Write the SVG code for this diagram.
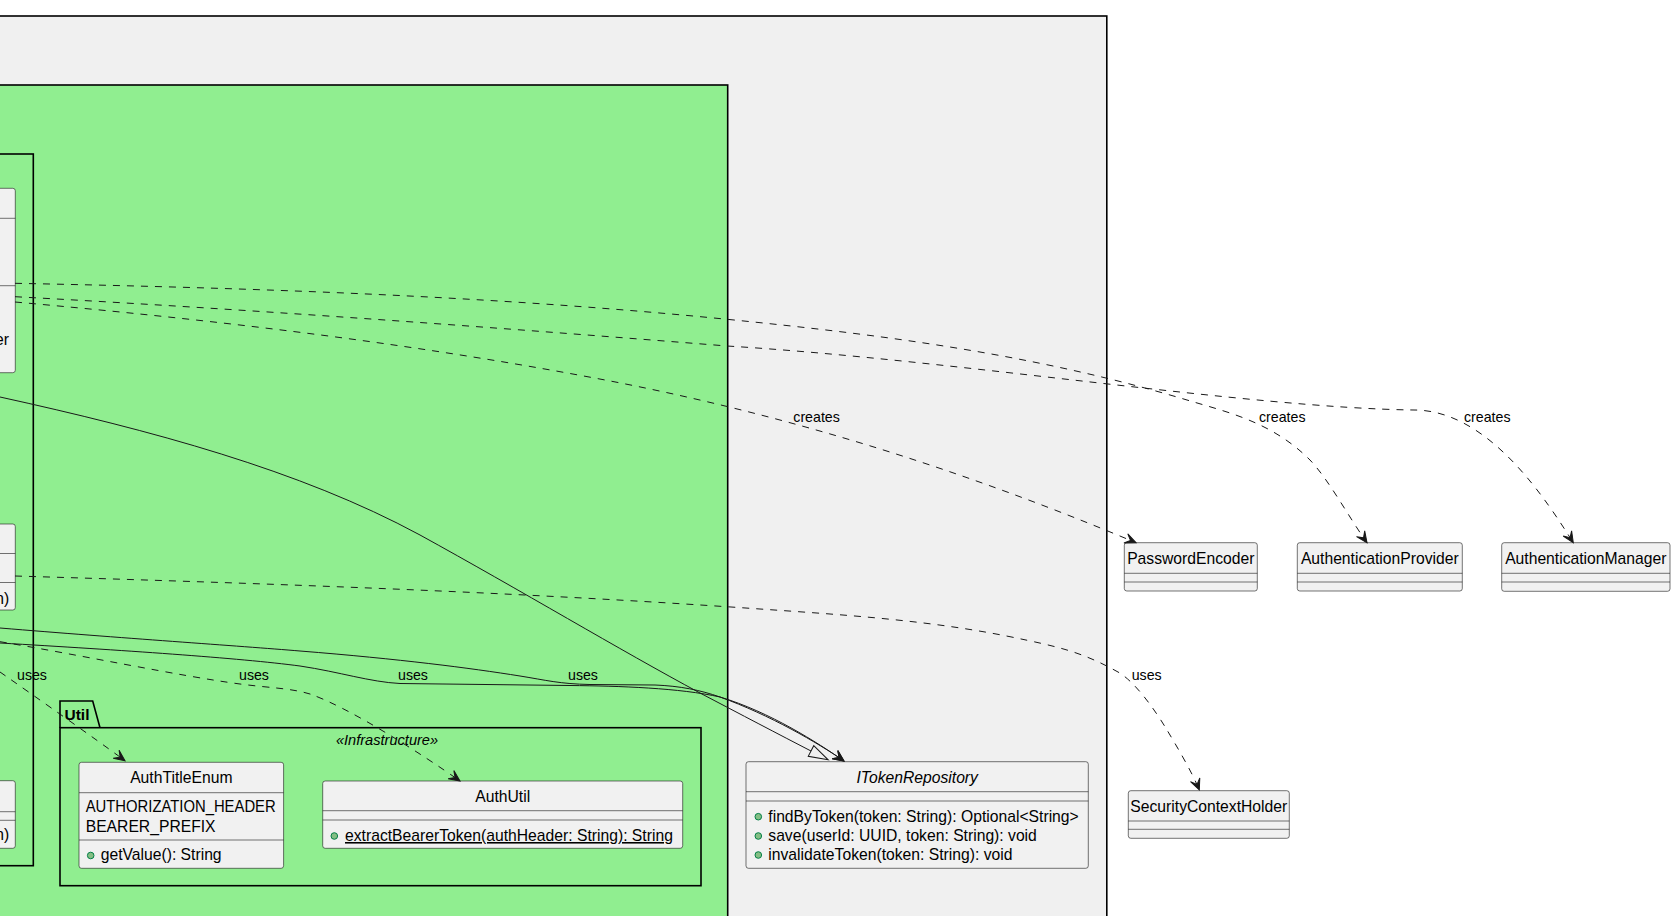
<svg xmlns="http://www.w3.org/2000/svg" width="1672" height="916" viewBox="0 0 1672 916">
<style>
.pkg{stroke:#000;stroke-width:1.6}
.box{fill:#F1F1F1;stroke:#181818;stroke-width:0.6}
.sep{stroke:#181818;stroke-width:0.6;fill:none}
.t{font-family:"Liberation Sans",Arial,sans-serif;font-size:15.7px;fill:#000}
.ti{font-family:"Liberation Sans",Arial,sans-serif;font-size:15.7px;font-style:italic;fill:#000}
.lbl{font-family:"Liberation Sans",Arial,sans-serif;font-size:14.2px;fill:#000}
.ster{font-family:"Liberation Sans",Arial,sans-serif;font-size:14.6px;font-style:italic;fill:#000}
.pub{fill:#84BE84;stroke:#038048;stroke-width:1}
.dash{fill:none;stroke:#181818;stroke-width:1;stroke-dasharray:7,7}
.solid{fill:none;stroke:#181818;stroke-width:1}
</style>
<defs>
<marker id="arr" markerUnits="userSpaceOnUse" markerWidth="14" markerHeight="12" viewBox="0 0 14 12" refX="11" refY="5" orient="auto" overflow="visible">
<path d="M11,5 L0,0 L5,5 L0,10 Z" fill="#181818" stroke="#181818" stroke-width="1" stroke-dasharray="none"/>
</marker>
<marker id="tri" markerUnits="userSpaceOnUse" markerWidth="24" markerHeight="16" viewBox="-2 -2 24 16" refX="0" refY="6" orient="auto" overflow="visible">
<path d="M0,0 L19.3,6 L0,12 Z" fill="none" stroke="#181818" stroke-width="1" stroke-dasharray="none"/>
</marker>
</defs>
<rect x="0" y="0" width="1672" height="916" fill="#FFFFFF"/>

<g id="pkg-outer">
<rect class="pkg" x="-20" y="16" width="1126.8" height="940" fill="#F0F0F0"/>
</g>
<g id="pkg-green">
<rect class="pkg" x="-20" y="85" width="747.7" height="900" fill="#90EE90"/>
</g>
<g id="pkg-inner">
<rect class="pkg" x="-20" y="154" width="53.3" height="711.7" fill="#90EE90"/>
</g>

<g id="node-left1">
<rect class="box" x="-200" y="188.3" width="215.3" height="184.4" rx="2.5"/>
<line class="sep" x1="-200" y1="218.3" x2="15.3" y2="218.3"/>
<line class="sep" x1="-200" y1="285.7" x2="15.3" y2="285.7"/>
<text class="t" x="9" y="345" text-anchor="end">er</text>
</g>
<g id="node-left2">
<rect class="box" x="-200" y="524" width="215.3" height="86" rx="2.5"/>
<line class="sep" x1="-200" y1="553.5" x2="15.3" y2="553.5"/>
<line class="sep" x1="-200" y1="582.5" x2="15.3" y2="582.5"/>
<text class="t" x="9.3" y="603.5" text-anchor="end">n)</text>
</g>
<g id="node-left3">
<rect class="box" x="-200" y="780.7" width="215.3" height="67.6" rx="2.5"/>
<line class="sep" x1="-200" y1="811.7" x2="15.3" y2="811.7"/>
<line class="sep" x1="-200" y1="820.3" x2="15.3" y2="820.3"/>
<text class="t" x="9.3" y="840" text-anchor="end">n)</text>
</g>

<g id="pkg-util">
<path class="pkg" d="M60,727.7 L60,701 L92.7,701 L100,727.7" fill="#90EE90"/>
<rect class="pkg" x="60" y="727.7" width="641" height="158" fill="#90EE90"/>
<text x="64.5" y="720" font-family="'Liberation Sans',Arial,sans-serif" font-size="15.5px" font-weight="bold" fill="#000">Util</text>
<text class="ster" x="387" y="745" text-anchor="middle">«Infrastructure»</text>
</g>

<g id="node-AuthTitleEnum">
<rect class="box" x="79" y="762.3" width="204.6" height="106" rx="2.5"/>
<line class="sep" x1="79" y1="792.7" x2="283.6" y2="792.7"/>
<line class="sep" x1="79" y1="840" x2="283.6" y2="840"/>
<text class="t" x="181.3" y="783.3" text-anchor="middle">AuthTitleEnum</text>
<text class="t" x="85.7" y="812" textLength="190" lengthAdjust="spacingAndGlyphs">AUTHORIZATION_HEADER</text>
<text class="t" x="85.7" y="831.7">BEARER_PREFIX</text>
<circle class="pub" cx="90.7" cy="855.5" r="3.3"/>
<text class="t" x="100.7" y="859.5">getValue(): String</text>
</g>

<g id="node-AuthUtil">
<rect class="box" x="322.7" y="781" width="360" height="67.3" rx="2.5"/>
<line class="sep" x1="322.7" y1="810.7" x2="682.7" y2="810.7"/>
<line class="sep" x1="322.7" y1="820" x2="682.7" y2="820"/>
<text class="t" x="502.7" y="801.7" text-anchor="middle">AuthUtil</text>
<circle class="pub" cx="334.3" cy="836" r="3.3"/>
<text class="t" x="345" y="841" text-decoration="underline">extractBearerToken(authHeader: String): String</text>
</g>

<g id="node-ITokenRepository">
<rect class="box" x="746" y="761.7" width="342.3" height="106.6" rx="2.5"/>
<line class="sep" x1="746" y1="791.7" x2="1088.3" y2="791.7"/>
<line class="sep" x1="746" y1="801" x2="1088.3" y2="801"/>
<text class="ti" x="917.2" y="783.3" text-anchor="middle">ITokenRepository</text>
<circle class="pub" cx="758.3" cy="816.7" r="3.3"/>
<text class="t" x="768.3" y="821.5">findByToken(token: String): Optional&lt;String&gt;</text>
<circle class="pub" cx="758.3" cy="836" r="3.3"/>
<text class="t" x="768.3" y="840.5">save(userId: UUID, token: String): void</text>
<circle class="pub" cx="758.3" cy="855" r="3.3"/>
<text class="t" x="768.3" y="860">invalidateToken(token: String): void</text>
</g>

<g id="node-PasswordEncoder">
<rect class="box" x="1124.3" y="542.7" width="133" height="48.3" rx="2.5"/>
<line class="sep" x1="1124.3" y1="573.3" x2="1257.3" y2="573.3"/>
<line class="sep" x1="1124.3" y1="582" x2="1257.3" y2="582"/>
<text class="t" x="1190.8" y="564" text-anchor="middle">PasswordEncoder</text>
</g>
<g id="node-AuthenticationProvider">
<rect class="box" x="1297.3" y="542.7" width="165" height="48.3" rx="2.5"/>
<line class="sep" x1="1297.3" y1="573.3" x2="1462.3" y2="573.3"/>
<line class="sep" x1="1297.3" y1="582" x2="1462.3" y2="582"/>
<text class="t" x="1379.8" y="564" text-anchor="middle">AuthenticationProvider</text>
</g>
<g id="node-AuthenticationManager">
<rect class="box" x="1501.7" y="542.7" width="168.3" height="48.6" rx="2.5"/>
<line class="sep" x1="1501.7" y1="573.3" x2="1670" y2="573.3"/>
<line class="sep" x1="1501.7" y1="582" x2="1670" y2="582"/>
<text class="t" x="1585.8" y="564" text-anchor="middle">AuthenticationManager</text>
</g>
<g id="node-SecurityContextHolder">
<rect class="box" x="1128.3" y="790.7" width="161" height="47.6" rx="2.5"/>
<line class="sep" x1="1128.3" y1="821" x2="1289.3" y2="821"/>
<line class="sep" x1="1128.3" y1="829.3" x2="1289.3" y2="829.3"/>
<text class="t" x="1208.8" y="811.7" text-anchor="middle">SecurityContextHolder</text>
</g>

<g id="connectors">
<path class="dash" marker-end="url(#arr)" d="M15,283.3 C252,288 490,295.6 727,319.3 C880,334.6 1034,354 1187,400 C1228,412.3 1272,422 1310,460 C1329,480 1348,516 1367,542.7"/>
<path class="dash" marker-end="url(#arr)" d="M15,296.7 C252,309.5 490,327 727,346 C956,360 1250,408 1414,410 C1490,410 1548,503 1573.3,542.7"/>
<path class="dash" marker-end="url(#arr)" d="M15,302 C212,319.7 408,342.6 605,380 C696,397.3 787,420.1 878,448.3 C964,475 1050,506.6 1136,542.7"/>
<path class="dash" marker-end="url(#arr)" d="M15,576 C263,583.4 512,591.6 760,609 C843,614.8 927,620 1010,636.7 C1060,647 1082,652 1118,672 C1135,681.5 1155,710 1167,730 C1177,746.7 1192,772 1199.3,790"/>
<path class="dash" marker-end="url(#arr)" d="M0,672 C40,700 90,735 125,760.7"/>
<path class="dash" marker-end="url(#arr)" d="M0,641.7 C80,655 180,676 240,684 C270,688 290,688 310,694 C350,708 420,753 460,781"/>
<path class="solid" marker-end="url(#arr)" d="M0,628 C120,638 240,646 300,651 C400,659 470,668 520,676 C545,680 560,684 590,684.5 L655,685 C680,686 700,690 720,697 C770,715 818,743 844,761"/>
<path class="solid" marker-end="url(#arr)" d="M0,643 C120,650 240,658 300,666 C340,672 370,682 400,683.5 L570,685.5 C620,686 680,688 720,697 C770,712 818,743 844,761"/>
<path class="solid" marker-end="url(#tri)" d="M0,397 C150,430 300,470 420,535 C520,590 620,650 700,693 C740,714 780,735 811,751"/>
<text class="lbl" x="793.3" y="421.7">creates</text>
<text class="lbl" x="1259" y="421.7">creates</text>
<text class="lbl" x="1464" y="421.7">creates</text>
<text class="lbl" x="17" y="679.5">uses</text>
<text class="lbl" x="239" y="679.5">uses</text>
<text class="lbl" x="398" y="679.5">uses</text>
<text class="lbl" x="568" y="679.5">uses</text>
<text class="lbl" x="1131.7" y="679.5">uses</text>
</g>
</svg>
